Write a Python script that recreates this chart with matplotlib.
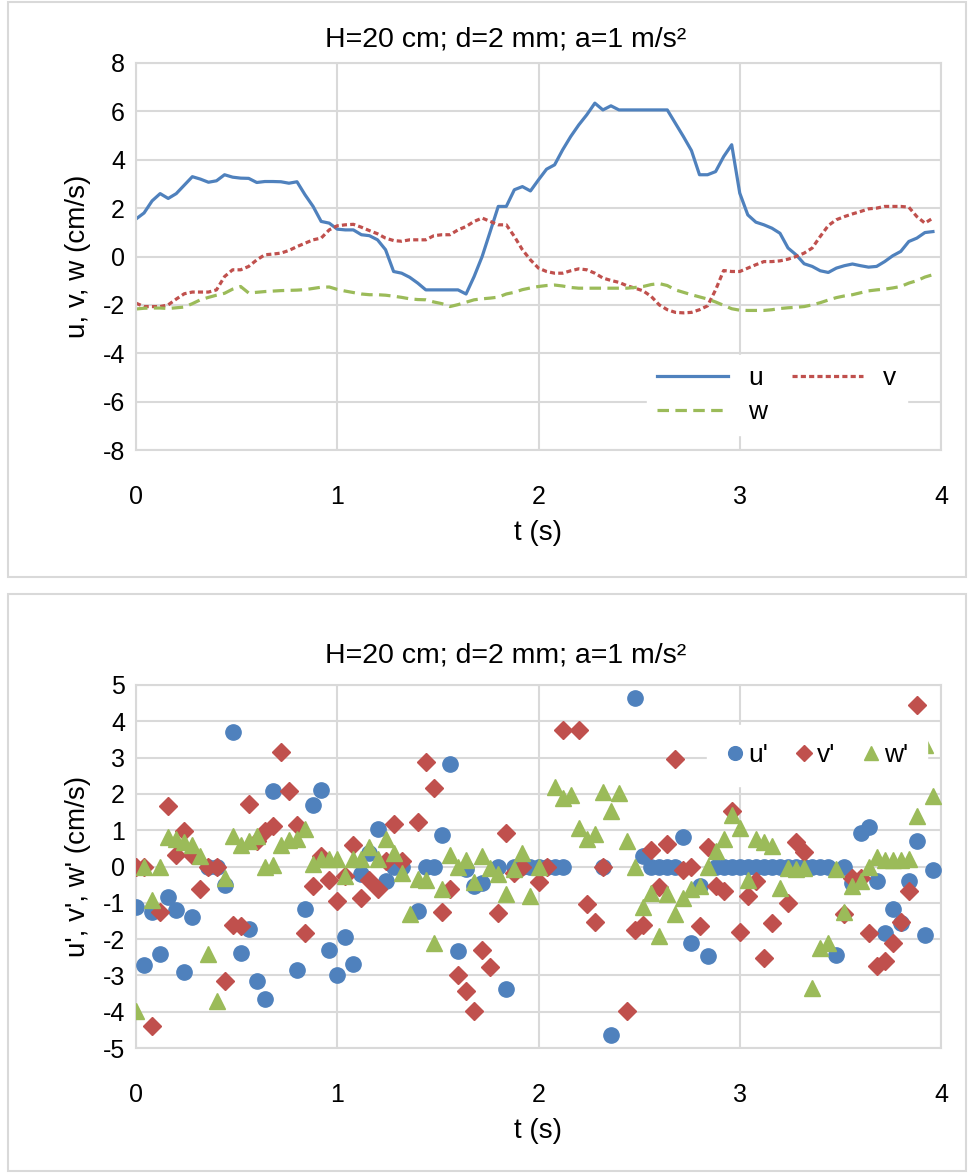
import numpy as np
import matplotlib
matplotlib.use("Agg")
import matplotlib.pyplot as plt
from matplotlib.patches import Rectangle

plt.rcParams['font.family'] = ['Liberation Sans', 'DejaVu Sans']
plt.rcParams['axes.unicode_minus'] = False

nan = np.nan
t = [round(0.04 * i, 2) for i in range(100)]

u = [1.55, 1.8, 2.3, 2.6, 2.4, 2.6, 2.95, 3.3, 3.2, 3.07,
     3.13, 3.38, 3.28, 3.24, 3.23, 3.06, 3.1, 3.1, 3.09, 3.03,
     3.09, 2.55, 2.07, 1.45, 1.38, 1.13, 1.1, 1.1, 0.9, 0.86,
     0.69, 0.28, -0.62, -0.69, -0.86, -1.1, -1.38, -1.38, -1.38, -1.38,
     -1.38, -1.55, -0.83, 0.0, 1.03, 2.07, 2.07, 2.76, 2.89, 2.71,
     3.17, 3.61, 3.79, 4.41, 4.96, 5.44, 5.86, 6.34, 6.06, 6.23,
     6.06, 6.06, 6.06, 6.06, 6.06, 6.06, 6.06, 5.51, 4.96, 4.38,
     3.38, 3.38, 3.51, 4.13, 4.62, 2.62, 1.72, 1.42, 1.31, 1.17,
     0.96, 0.35, 0.07, -0.30, -0.41, -0.59, -0.66, -0.48, -0.38, -0.31,
     -0.38, -0.44, -0.41, -0.21, 0.03, 0.21, 0.62, 0.76, 0.99, 1.03]

v = [-1.93, -2.07, -2.07, -2.07, -2.0, -1.76, -1.54, -1.47, -1.47, -1.47,
     -1.38, -0.83, -0.55, -0.55, -0.41, -0.14, 0.07, 0.1, 0.14, 0.25,
     0.41, 0.55, 0.69, 0.76, 1.1, 1.27, 1.31, 1.33, 1.21, 1.07,
     0.94, 0.76, 0.66, 0.63, 0.69, 0.69, 0.69, 0.86, 0.9, 0.9,
     1.1, 1.24, 1.45, 1.59, 1.45, 1.31, 1.31, 0.83, 0.28, -0.14,
     -0.48, -0.62, -0.69, -0.69, -0.59, -0.51, -0.55, -0.69, -0.89, -0.99,
     -1.07, -1.21, -1.31, -1.42, -1.65, -2.0, -2.2, -2.31, -2.33, -2.31,
     -2.2, -2.04, -1.38, -0.58, -0.62, -0.62, -0.48, -0.34, -0.21, -0.21,
     -0.18, -0.11, 0.0, 0.14, 0.35, 0.83, 1.28, 1.52, 1.65, 1.76,
     1.86, 1.97, 2.0, 2.07, 2.07, 2.07, 2.04, 1.65, 1.38, 1.59]

w = [-2.17, -2.14, -2.13, -2.13, -2.15, -2.12, -2.09, -1.95, -1.79, -1.69,
     -1.6, -1.52, -1.35, -1.24, -1.51, -1.48, -1.45, -1.43, -1.41, -1.40,
     -1.39, -1.37, -1.32, -1.27, -1.26, -1.36, -1.43, -1.49, -1.55, -1.58,
     -1.58, -1.6, -1.64, -1.69, -1.75, -1.78, -1.79, -1.88, -1.95, -2.07,
     -1.99, -1.89, -1.79, -1.75, -1.72, -1.68, -1.55, -1.48, -1.37, -1.30,
     -1.24, -1.2, -1.18, -1.22, -1.28, -1.31, -1.31, -1.31, -1.31, -1.31,
     -1.31, -1.31, -1.28, -1.24, -1.16, -1.12, -1.2, -1.38, -1.48, -1.58,
     -1.67, -1.76, -1.88, -2.02, -2.16, -2.22, -2.23, -2.23, -2.23, -2.2,
     -2.15, -2.12, -2.1, -2.07, -2.0, -1.91, -1.8, -1.7, -1.63, -1.58,
     -1.5, -1.42, -1.38, -1.35, -1.3, -1.24, -1.1, -1.0, -0.85, -0.75]

u_p = [-1.12, -2.70, -1.24, -2.42, -0.85, -1.20, -2.91, -1.38, nan, 0,
       0, -0.5, 3.70, -2.38, -1.72, -3.16, -3.66, 2.09, nan, nan,
       -2.84, -1.17, 1.69, 2.12, -2.31, -2.98, -1.94, -2.68, -0.22, 0.38,
       1.02, -0.39, 0, 0, nan, -1.23, 0, 0, 0.88, 2.81,
       -2.33, -0.08, -0.54, -0.45, nan, 0, -3.37, 0, 0, 0,
       0, 0, 0, 0, nan, nan, nan, nan, 0, -4.63,
       nan, nan, 4.63, 0.28, 0, 0, 0, 0, 0.82, -2.12,
       -0.54, -2.47, 0, 0, 0, 0, 0, 0, 0, 0,
       0, 0, 0, 0, 0, 0, 0, -2.45, 0, -0.45,
       0.91, 1.09, -0.39, -1.83, -1.17, -1.55, -0.39, 0.70, -1.90, -0.11]

v_p = [0, 0, -4.40, -1.25, 1.66, 0.33, 0.97, 0.33, -0.63, 0,
       0, -3.16, -1.60, -1.64, 1.73, 0.70, 0.97, 1.11, 3.15, 2.07,
       1.14, -1.83, -0.54, 0.28, -0.38, -0.96, -0.27, 0.59, -0.88, -0.36,
       -0.63, 0.15, 1.18, 0.15, nan, 1.22, 2.87, 2.15, -1.25, -0.61,
       -3.0, -3.44, -3.97, -2.30, -2.76, -1.29, 0.91, -0.17, 0, nan,
       -0.43, 0, nan, 3.77, nan, 3.77, -1.02, -1.52, 0, nan,
       nan, -3.97, -1.75, -1.62, 0.45, -0.56, 0.61, 2.97, -0.1, 0,
       -1.64, 0.53, -0.54, -0.68, 1.52, -1.80, -0.80, -0.40, -2.52, -1.57,
       nan, -1.0, 0.68, 0.40, nan, nan, nan, nan, -1.30, -0.33,
       -0.33, -1.83, -2.75, -2.61, -2.10, -1.52, -0.68, 4.46, nan, nan]

w_p = [-3.99, 0, -0.91, 0.0, 0.8, 0.76, 0.67, 0.58, 0.3, -2.42,
       -3.71, -0.33, 0.83, 0.6, 0.7, 0.85, 0, 0.05, 0.6, 0.73,
       0.77, 1.04, 0.07, 0.2, 0.2, 0.2, -0.25, 0.2, 0.2, 0.53,
       0.2, 0.77, 0.38, -0.17, -1.32, -0.34, -0.36, -2.10, -0.61, 0.33,
       0, 0.19, -0.43, 0.28, -0.04, -0.22, -0.77, -0.08, 0.38, -0.82,
       0, nan, 2.20, 1.89, 1.98, 1.07, 0.76, 0.9, 2.05, 1.52,
       2.03, 0.70, 0, -1.11, -0.73, -1.92, -0.77, -1.32, -0.86, -0.63,
       -0.54, 0, 0.42, 0.76, 1.43, 1.07, -0.36, 0.76, 0.67, 0.56,
       -0.59, -0.04, -0.08, -0.04, -3.34, -2.24, -2.10, -0.08, -1.25, -0.54,
       -0.40, 0, 0.25, 0.17, 0.17, 0.17, 0.2, 1.40, 3.35, 1.94]

title = "H=20 cm; d=2 mm; a=1 m/s\u00b2"
blue, red, green = "#4F81BD", "#C0504D", "#9BBB59"
grid_c = "#D9D9D9"

W, H = 971, 1173
fig = plt.figure(figsize=(W / 100, H / 100), dpi=100)

for (x0, y0, x1, y1) in [(8, 2, 966, 577), (8, 594, 966, 1171)]:
    fig.patches.append(Rectangle((x0 / W, 1 - y1 / H), (x1 - x0) / W, (y1 - y0) / H,
                                 transform=fig.transFigure, fill=False,
                                 edgecolor="#D9D9D9", linewidth=1.5))

TICK, LAB, TIT, LEG = 18, 20, 20.5, 19

def style(ax):
    ax.set_xlim(0, 4)
    ax.set_xticks([0, 1, 2, 3, 4])
    ax.grid(True, color=grid_c, linewidth=1.5)
    ax.set_axisbelow(True)
    for s in ax.spines.values():
        s.set_color(grid_c)
        s.set_linewidth(1.5)
    ax.tick_params(axis="y", length=0, labelsize=TICK, pad=8, colors="#000000")
    ax.tick_params(axis="x", length=0, labelsize=TICK, pad=25, colors="#000000")

# top
ax1 = fig.add_axes([136 / W, 1 - 450 / H, 805 / W, 387 / H])
style(ax1)
ax1.set_ylim(-8, 8)
ax1.set_yticks(range(-8, 9, 2))
lu, = ax1.plot(t, u, color=blue, lw=2.3, label="u")
lv, = ax1.plot(t, v, color=red, lw=2.3, linestyle=(0, (1.6, 1.0)), label="v")
lw_, = ax1.plot(t, w, color=green, lw=2.3, linestyle=(0, (3.6, 2.0)), label="w")
fig.text(506 / W, 1 - 40 / H, title, fontsize=TIT, ha="center", va="center")
ax1.set_xlabel("t (s)", fontsize=LAB, labelpad=8)
ax1.set_ylabel("u, v, w (cm/s)", fontsize=LAB, labelpad=8)
leg1 = ax1.legend(handles=[lu, lw_, lv], ncol=2, loc="center",
                  bbox_to_anchor=(0.796, 0.142), fontsize=LEG, frameon=True,
                  fancybox=False, edgecolor="white", framealpha=1,
                  handlelength=2.7, columnspacing=0.95, handletextpad=0.75,
                  borderpad=0.4, labelspacing=0.4)
leg1.set_zorder(5)

# bottom
ax2 = fig.add_axes([136 / W, 1 - 1048 / H, 805 / W, 363 / H])
style(ax2)
ax2.set_ylim(-5, 5)
ax2.set_yticks(range(-5, 6, 1))
su, = ax2.plot(t, u_p, linestyle="none", marker="o", markersize=11,
               color=blue, label="u'", zorder=3)
sv, = ax2.plot(t, v_p, linestyle="none", marker="D", markersize=9,
               color=red, label="v'", zorder=3)
sw, = ax2.plot(t, w_p, linestyle="none", marker="^", markersize=11.5,
               color=green, label="w'", zorder=3)
fig.text(506 / W, 1 - 655 / H, title, fontsize=TIT, ha="center", va="center")
ax2.set_xlabel("t (s)", fontsize=LAB, labelpad=8)
ax2.set_ylabel("u', v', w' (cm/s)", fontsize=LAB, labelpad=8)
leg2 = ax2.legend(handles=[su, sv, sw], ncol=3, loc="center",
                  bbox_to_anchor=(0.846, 0.807), fontsize=LEG, frameon=True,
                  fancybox=False, edgecolor="white", framealpha=1,
                  handlelength=0.7, columnspacing=1.0, handletextpad=0.15,
                  borderpad=0.7, markerscale=0.9)
leg2.set_zorder(5)

fig.savefig("out.png", dpi=100)
